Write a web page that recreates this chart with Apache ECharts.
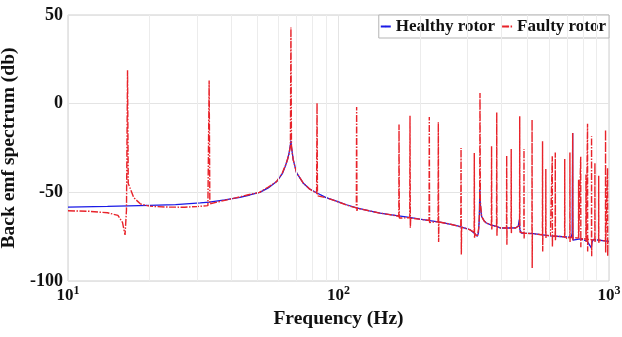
<!DOCTYPE html>
<html>
<head>
<meta charset="utf-8">
<script src="https://cdn.jsdelivr.net/npm/echarts@6/dist/echarts.min.js"></script>
<style>html,body{margin:0;padding:0;background:#fff;}#c{width:622px;height:337px;}</style>
</head>
<body>
<div id="c"></div>
<script>
const seriesNames = ['Healthy rotor', 'Faulty rotor'];
const xTicks = [10, 100, 1000];
const yTicks = [-100, -50, 0, 50];
const minorGrid = [20, 30, 40, 50, 60, 70, 80, 90, 200, 300, 400, 500, 600, 700, 800, 900];

const healthyRotor = [
  [10, -58.3], [14, -57.9], [20, -57.3], [25, -56.9], [30.8, -56], [33.3, -55.5], [38, -54.2],
  [43.2, -52.8], [47, -51.5], [51.2, -50], [55, -47.5], [59.2, -43.8], [62, -39.5], [63.5, -35.4],
  [64.8, -31.5], [65.8, -27], [66.5, -22.5], [66.7, -21], [67.1, -25], [68, -31.6], [70, -39],
  [74, -44.7], [78, -48], [83.3, -50.4], [90, -53], [98.3, -55], [107, -57], [116.7, -58.8],
  [130, -60.5], [142.6, -61.7], [154.7, -62.6], [180, -64], [205.5, -65.4], [240, -67],
  [273.4, -68.8], [305.6, -71], [319.4, -73.3], [325.9, -74.8], [329, -73], [331.5, -65],
  [333, -48], [334.5, -57], [338, -63.5], [345, -66], [352, -67.3], [368, -68.5], [384.6, -69.2],
  [396.5, -70.1], [430, -70.1], [452, -70], [462, -69], [466, -65.4], [468, -71], [475, -73],
  [524.7, -73.3], [607, -74.5], [699, -75.2], [725, -75.4], [731, -73], [733.5, -30], [734, -16.5],
  [734.6, -60], [736, -77], [740, -76], [783, -76.3], [830, -77.5], [850, -80], [860, -81.4],
  [866, -78], [875, -76.6], [1000, -77.7]
];

const faultyRotor = [
  [10, -60.4], [12, -60.7], [14, -61.5], [15.3, -63], [15.9, -67], [16.25, -74], [16.45, -60],
  [16.6, 18.8], [16.7, -45], [17.0, -48], [17.5, -53], [18.5, -56.5], [20, -57.8], [23, -58.3],
  [27, -58.4], [30, -58], [32.9, -57.5], [33.25, 13], [33.45, -56.5], [33.8, -56], [38, -54.5],
  [42, -53], [46, -51.5], [51, -50], [55, -47], [59, -44], [62, -39], [64, -34], [65.5, -29],
  [66.4, -24], [66.7, 43], [67.0, -24], [68, -31.6], [70, -39], [74, -44.7], [78, -48],
  [83.0, -50.5], [83.3, 0.4], [83.6, -52], [84, -51], [90, -53], [98, -55], [110, -57.8],
  [116.4, -58.8], [116.7, -1.9], [117.0, -60.5], [117.5, -59], [142, -61.7], [155, -62.6],
  [167.1, -63.5], [167.4, -11.8], [167.8, -64.5], [168.3, -63.6], [183.4, -64.3], [183.8, -6.8],
  [184.3, -70], [184.9, -64.5], [205, -65.4], [216.2, -65.8], [216.6, -7.5], [217.1, -67],
  [217.6, -66], [233.4, -66.5], [233.9, -10.5], [234.5, -78], [235.1, -66.7], [260, -68],
  [283.2, -69.5], [283.8, -25], [284.5, -85], [285.2, -69.7], [305, -71], [317.3, -72.5],
  [317.7, -27.8], [318.3, -76], [319.2, -73.3], [323, -74], [326, -75], [330, -70], [332.5, -60],
  [333.5, 6], [334.5, -55], [338, -63.5], [345, -66], [352, -67.3], [367.5, -68.5], [368, -24],
  [368.7, -71], [369.5, -68.8], [384, -69.2], [384.6, -4.9], [385.3, -74.8], [386, -69.3],
  [398, -70.1], [418, -70.1], [418.6, -29.3], [419.3, -79.5], [420, -70.1], [434.5, -70.1],
  [435, -25.5], [435.6, -73], [436.2, -70.1], [452, -70.1], [464, -69], [467.2, -66], [467.7, -7.1],
  [468.3, -71], [469, -72.5], [475, -73], [484.5, -73], [485, -25.5], [485.6, -76], [486.3, -73],
  [519, -73.3], [519.5, -9], [520.1, -92.7], [520.8, -73.3], [567.5, -74], [568, -21.2],
  [568.7, -83.3], [569.4, -74], [583.5, -74.2], [584, -36.8], [584.7, -76], [585.4, -74.2],
  [607, -74.5], [616.5, -74.6], [617, -29.7], [617.7, -80.5], [618.4, -74.6], [632.5, -74.7],
  [633, -27.5], [633.8, -77], [634.6, -74.7], [685.5, -75.1], [686, -31.2], [686.8, -76],
  [687.6, -75.1], [716.5, -75.4], [717, -27.5], [717.8, -78], [718.6, -75.4], [733.5, -75.5],
  [734, -16.5], [734.8, -77], [735.6, -75.5], [771.5, -75.8], [772, -42.9], [772.8, -76],
  [773.6, -76], [785.5, -76], [786, -30], [786.9, -81], [787.8, -76.1], [821.5, -76.3], [822, -40],
  [822.9, -78], [823.8, -76.3], [832.5, -76.4], [833, -11.3], [833.9, -83.3], [834.8, -76.5],
  [861.5, -76.6], [862, -18.4], [862.9, -86], [863.8, -76.6], [886.5, -76.8], [887, -33.4],
  [888, -78], [889, -76.8], [915.5, -77], [916, -40.6], [917, -78.5], [918, -77], [970.5, -77.4],
  [971, -14.7], [972, -84], [973, -77.5], [987.5, -77.6], [988, -36.3], [989, -86], [990, -77.6],
  [1000, -77.7]
];

const FONT = 'Liberation Serif';
const chart = echarts.init(document.getElementById('c'), null, {renderer: 'canvas'});
chart.setOption({
  animation: false,
  backgroundColor: '#fff',
  grid: {left: 68, right: 13, top: 15, bottom: 56, show: true, borderColor: '#cfcfcf', borderWidth: 1,
         containLabel: false, outerBoundsMode: 'none'},
  legend: {
    data: seriesNames,
    right: 13, top: 15,
    itemGap: 6, itemWidth: 10, itemHeight: 2,
    padding: [3, 3, 3, 1],
    borderColor: '#b5b5b5', borderWidth: 1, borderRadius: 0,
    backgroundColor: '#fff',
    textStyle: {fontFamily: FONT, fontWeight: 'bold', fontSize: 17, color: '#111'}
  },
  xAxis: {
    type: 'log', logBase: 10, min: xTicks[0], max: xTicks[xTicks.length - 1],
    name: 'Frequency (Hz)', nameLocation: 'middle', nameGap: 20,
    nameTextStyle: {fontFamily: FONT, fontWeight: 'bold', fontSize: 19.5, color: '#111'},
    axisLine: {show: false}, axisTick: {show: false},
    splitLine: {show: true, lineStyle: {color: '#e4e4e4', width: 1}},
    axisLabel: {
      showMinLabel: true, showMaxLabel: true, margin: 4,
      formatter: function (v) { return '{b|10}{s|' + Math.round(Math.log10(v)) + '}'; },
      rich: {
        b: {fontFamily: FONT, fontWeight: 'bold', fontSize: 17, color: '#111', verticalAlign: 'bottom'},
        s: {fontFamily: FONT, fontWeight: 'bold', fontSize: 12, color: '#111', verticalAlign: 'bottom', padding: [0, 0, 7, 0]}
      }
    }
  },
  yAxis: {
    type: 'value', min: yTicks[0], max: yTicks[yTicks.length - 1], interval: 50,
    name: 'Back emf spectrum (db)', nameLocation: 'middle', nameGap: 42,
    nameTextStyle: {fontFamily: FONT, fontWeight: 'bold', fontSize: 19.5, color: '#111'},
    axisLine: {show: false}, axisTick: {show: false},
    splitLine: {show: true, lineStyle: {color: '#e4e4e4', width: 1}},
    axisLabel: {fontFamily: FONT, fontWeight: 'bold', fontSize: 18, color: '#111', margin: 5}
  },
  series: [
    {
      name: seriesNames[0], type: 'line', data: healthyRotor, showSymbol: false, symbol: 'none',
      lineStyle: {color: '#1a1ae6', width: 1.3}, itemStyle: {color: '#1a1ae6'}, z: 2,
      markLine: {
        silent: true, symbol: 'none', label: {show: false},
        lineStyle: {color: '#ececec', width: 1, type: 'solid'},
        data: minorGrid.map(function (v) { return {xAxis: v}; })
      }
    },
    {
      name: seriesNames[1], type: 'line', data: faultyRotor, showSymbol: false, symbol: 'none',
      lineStyle: {color: '#e8232a', width: 1.4, type: [7, 1.5, 1.5, 1.5]}, itemStyle: {color: '#e8232a'}, z: 3
    }
  ]
});
</script>
</body>
</html>
